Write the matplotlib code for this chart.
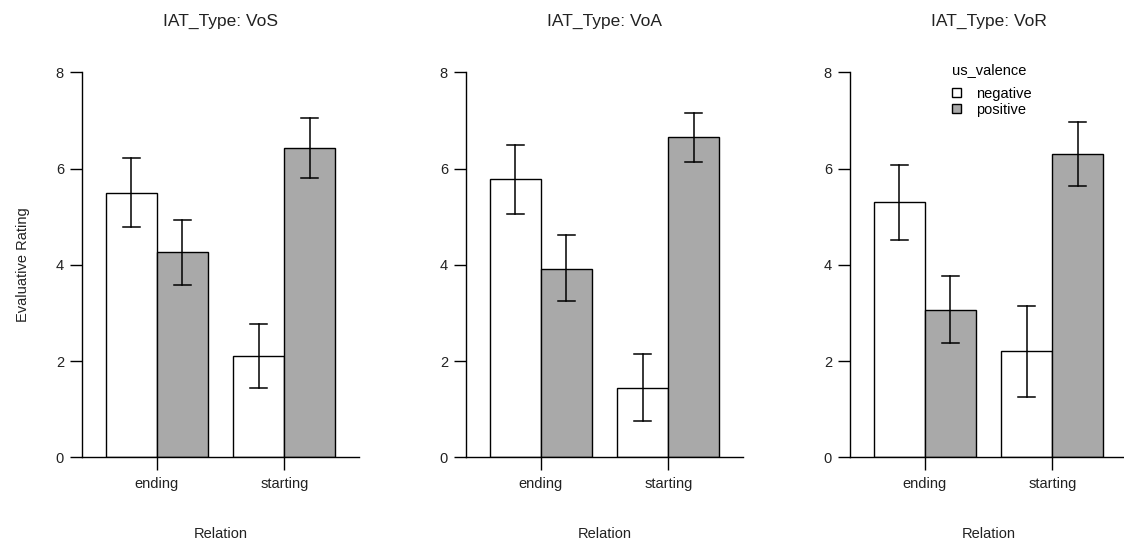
import matplotlib
matplotlib.use("Agg")
import matplotlib.pyplot as plt
from matplotlib.patches import Patch

plt.rcParams['font.family'] = ['Liberation Sans', 'DejaVu Sans']

panels = ["VoS", "VoA", "VoR"]
relations = ["ending", "starting"]
valences = ["negative", "positive"]
colors = {"negative": "white", "positive": "#A9A9A9"}

means = {
    "VoS": {"negative": [5.50, 2.10], "positive": [4.26, 6.42]},
    "VoA": {"negative": [5.78, 1.45], "positive": [3.92, 6.65]},
    "VoR": {"negative": [5.30, 2.20], "positive": [3.07, 6.30]},
}
upper = {
    "VoS": {"negative": [6.22, 2.77], "positive": [4.93, 7.06]},
    "VoA": {"negative": [6.48, 2.14], "positive": [4.61, 7.16]},
    "VoR": {"negative": [6.08, 3.15], "positive": [3.77, 6.97]},
}
lower = {
    "VoS": {"negative": [4.78, 1.43], "positive": [3.57, 5.80]},
    "VoA": {"negative": [5.06, 0.75], "positive": [3.25, 6.14]},
    "VoR": {"negative": [4.52, 1.25], "positive": [2.38, 5.64]},
}
yticks = [0, 2, 4, 6, 8]

W, H = 1124, 542
fig = plt.figure(figsize=(W / 100, H / 100), dpi=100)

lefts = [82, 466, 850]
axw = 277
top_px, bot_px = 72.3, 457.3
bw = 0.4
xl = (-0.585, 1.585)
fs = 10.5

for i, p in enumerate(panels):
    ax = fig.add_axes([lefts[i] / W, 1 - bot_px / H, axw / W, (bot_px - top_px) / H])
    for j, v in enumerate(valences):
        off = -bw / 2 if j == 0 else bw / 2
        xs = [k + off for k in range(len(relations))]
        ax.bar(xs, means[p][v], width=bw, color=colors[v], edgecolor="black",
               linewidth=1.0, zorder=2)
        for k, x in enumerate(xs):
            ax.plot([x, x], [lower[p][v][k], upper[p][v][k]], color="black", lw=1.1, zorder=3)
            for yy in (lower[p][v][k], upper[p][v][k]):
                ax.plot([x - 0.066, x + 0.066], [yy, yy], color="black", lw=1.1, zorder=3)
    ax.set_xlim(*xl)
    ax.set_ylim(0, 8)
    ax.set_xticks(range(len(relations)))
    ax.set_xticklabels(relations)
    ax.set_yticks(yticks)
    ax.set_yticklabels([str(t) for t in yticks])
    for s in ["top", "right"]:
        ax.spines[s].set_visible(False)
    ax.spines["left"].set_linewidth(1.0)
    ax.spines["bottom"].set_linewidth(1.0)
    ax.tick_params(axis="both", direction="out", length=9, width=1.0, labelsize=fs,
                   colors="black", labelcolor="#222222")
    ax.tick_params(axis="x", pad=5)
    ax.tick_params(axis="y", pad=4)
    ax.set_xlabel("Relation", fontsize=fs, labelpad=26, color="#222222")
    ax.set_title(f"IAT_Type: {p}", fontsize=12.5, pad=33.5, color="#222222")
    ax.patch.set_visible(False)
    if i == 0:
        ax.set_ylabel("Evaluative Rating", fontsize=fs, labelpad=18.3, color="#222222")
    if i == 2:
        handles = [Patch(facecolor=colors[v], edgecolor="black", linewidth=1.0) for v in valences]
        leg = ax.legend(handles, valences, title="us_valence", loc="upper left",
                        bbox_to_anchor=((942 - lefts[i]) / axw, 1.051), frameon=False,
                        fontsize=fs, title_fontsize=fs, handlelength=0.6, handleheight=0.6,
                        handletextpad=1.03, labelspacing=0.15, borderpad=0.2)
        leg._legend_box.align = "left"
        leg._legend_box.sep = 7

fig.savefig("out.png", dpi=100)
